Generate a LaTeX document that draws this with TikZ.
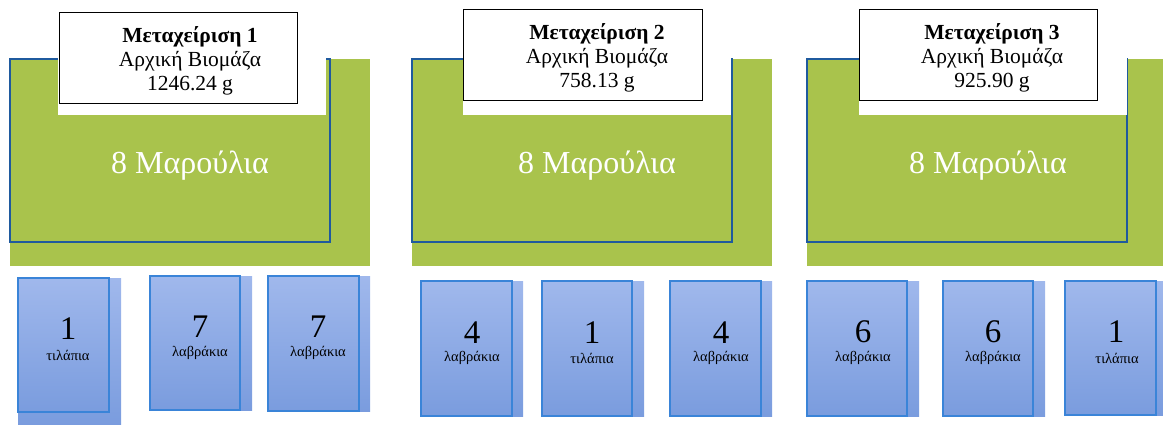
\documentclass[tikz,border=0pt]{standalone}
\usepackage{fontspec}
\setmainfont{Liberation Serif}
\definecolor{lgreen}{HTML}{A9C34C}
\definecolor{dblue}{HTML}{1F5A9E}
\definecolor{fborder}{HTML}{3A84D8}
\definecolor{ftop}{HTML}{A0B8EC}
\definecolor{fbot}{HTML}{7A9CDE}
\tikzset{
  greenbg/.style={fill=lgreen},
  tankline/.style={draw=dblue, line width=2.2pt},
  infobox/.style={draw=black, line width=1pt, fill=white},
  fishshadow/.style={top color=ftop, bottom color=fbot, draw=none},
  fishbox/.style={top color=ftop, bottom color=fbot, draw=fborder, line width=1.6pt},
  infotext/.style={align=center, font=\fontsize{21.5}{24}\selectfont, inner sep=0pt},
  lettuce/.style={text=white, font=\fontsize{32}{34}\selectfont, inner sep=0pt},
  fishnum/.style={font=\fontsize{33}{34}\selectfont, inner sep=0pt},
  fishlab/.style={font=\fontsize{14.5}{15}\selectfont, inner sep=0pt}
}
\newcommand{\tank}[5]{%
  % #1 green left, #2 green right, #3 outline right, #4 white left, #5 white right
  \fill[greenbg] (#1,59) rectangle (#2,266);
  \draw[tankline] (#1,59) rectangle (#3,242);
  \fill[white] (#4,50) rectangle (#5,115);
}
\newcommand{\fish}[6]{%
  % #1 left, #2 right, #3 shadow right, #4 top, #5 bottom, #6 shadow bottom
  \fill[fishshadow] (#1,#4) rectangle (#3,#6);
  \draw[fishbox] (#1,#4) rectangle (#2,#5);
}
\begin{document}
\begin{tikzpicture}[x=1pt,y=-1pt]
\useasboundingbox (0,0) rectangle (1163,425);
% Panel 1
\tank{10}{370}{330}{58}{326}
\draw[infobox] (59,13) rectangle (297,104);
\node[infotext] (t1) at (190,61) {\textbf{Μεταχείριση 1}\\Αρχική Βιομάζα\\1246.24 g};
\node[lettuce] (m1) at (190,166) {8 Μαρούλια};
% Panel 2
\tank{412}{772}{732}{463}{731}
\draw[infobox] (463,10) rectangle (702,101);
\node[infotext] (t2) at (597,58) {\textbf{Μεταχείριση 2}\\Αρχική Βιομάζα\\758.13 g};
\node[lettuce] (m2) at (597,166) {8 Μαρούλια};
% Panel 3
\tank{807}{1163}{1127}{859}{1127}
\draw[infobox] (859,10) rectangle (1097,101);
\node[infotext] (t3) at (992,58) {\textbf{Μεταχείριση 3}\\Αρχική Βιομάζα\\925.90 g};
\node[lettuce] (m3) at (988,166) {8 Μαρούλια};
% Fish tanks panel 1
\fish{18}{109}{121}{278}{412}{425}
\node[fishnum] (n1) at (68,329) {1};
\node[fishlab] (l1) at (68,355) {τιλάπια};
\fish{150}{240}{252}{276}{410}{410}
\node[fishnum] (n2) at (200,327) {7};
\node[fishlab] (l2) at (200,353) {λαβράκια};
\fish{268}{359}{370}{276}{411}{411}
\node[fishnum] (n3) at (318,327) {7};
\node[fishlab] (l3) at (318,353) {λαβράκια};
% panel 2
\fish{421}{512}{523}{281}{416}{416}
\node[fishnum] (n4) at (472,333) {4};
\node[fishlab] (l4) at (472,358) {λαβράκια};
\fish{542}{632}{644}{281}{416}{416}
\node[fishnum] (n5) at (592,333) {1};
\node[fishlab] (l5) at (592,358) {τιλάπια};
\fish{670}{761}{772}{281}{416}{416}
\node[fishnum] (n6) at (721,333) {4};
\node[fishlab] (l6) at (721,358) {λαβράκια};
% panel 3
\fish{807}{907}{919}{281}{416}{416}
\node[fishnum] (n7) at (863,332) {6};
\node[fishlab] (l7) at (863,358) {λαβράκια};
\fish{943}{1033}{1045}{281}{416}{416}
\node[fishnum] (n8) at (993,332) {6};
\node[fishlab] (l8) at (993,358) {λαβράκια};
\fish{1065}{1156}{1163}{281}{415}{415}
\node[fishnum] (n9) at (1116,332) {1};
\node[fishlab] (l9) at (1117,358) {τιλάπια};
\end{tikzpicture}
\end{document}
